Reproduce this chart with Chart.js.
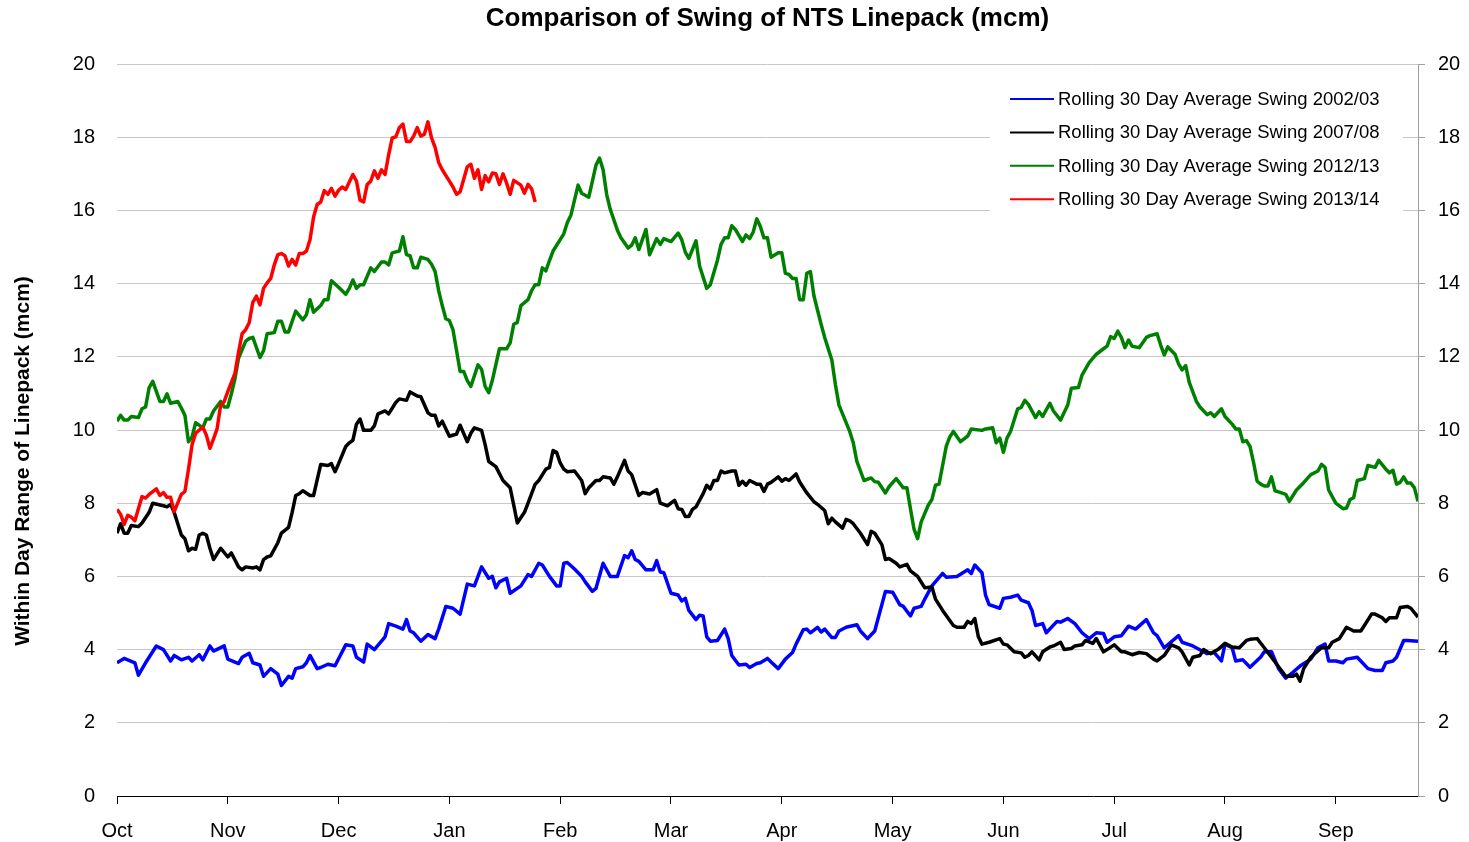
<!DOCTYPE html>
<html lang="en">
<head>
<meta charset="UTF-8">
<title>Comparison of Swing of NTS Linepack (mcm)</title>
<script src="https://cdn.jsdelivr.net/npm/chart.js@4"></script>
<style>
    html, body { margin: 0; padding: 0; background: #fff; }
    canvas { display: block; }
</style>
</head>
<body>
<canvas id="linepackChart" width="1469" height="842"></canvas>
<script>
// month labels, one every 31 days from 1 October
const months = ['Oct', 'Nov', 'Dec', 'Jan', 'Feb', 'Mar', 'Apr', 'May', 'Jun', 'Jul', 'Aug', 'Sep'];
const yTicks = [0, 2, 4, 6, 8, 10, 12, 14, 16, 18, 20];

const chartTitle = 'Comparison of Swing of NTS Linepack (mcm)';
const yTitle = 'Within Day Range of Linepack (mcm)';
const seriesLabels = [
    'Rolling 30 Day Average Swing 2002/03',
    'Rolling 30 Day Average Swing 2007/08',
    'Rolling 30 Day Average Swing 2012/13',
    'Rolling 30 Day Average Swing 2013/14'
];

// [day of gas year, mcm]
const swing0203 = [[0,3.64],[2,3.76],[5,3.64],[6,3.30],[8,3.64],[11,4.10],[13,4.00],[15,3.69],[16,3.84],[18,3.72],[20,3.79],[21,3.69],[23,3.86],[24,3.72],[26,4.10],[27,3.96],[30,4.10],[31,3.74],[34,3.62],[35,3.79],[37,3.90],[38,3.64],[40,3.58],[41,3.27],[43,3.48],[45,3.33],[46,3.02],[48,3.27],[49,3.22],[50,3.48],[52,3.53],[53,3.64],[54,3.84],[56,3.48],[57,3.51],[59,3.60],[61,3.56],[62,3.75],[64,4.13],[66,4.10],[67,3.79],[69,3.66],[70,4.15],[72,4.00],[75,4.35],[76,4.71],[78,4.64],[80,4.56],[81,4.82],[82,4.51],[83,4.46],[85,4.23],[87,4.41],[89,4.30],[90,4.56],[92,5.18],[94,5.13],[96,4.97],[98,5.79],[100,5.74],[102,6.26],[104,5.95],[105,6.00],[106,5.69],[107,5.85],[109,5.95],[110,5.54],[113,5.74],[115,6.05],[116,6.00],[118,6.36],[119,6.31],[121,6.00],[123,5.74],[124,5.74],[125,6.36],[126,6.38],[128,6.20],[130,6.00],[131,5.85],[133,5.59],[134,5.67],[136,6.36],[138,6.00],[140,6.00],[142,6.57],[143,6.51],[144,6.70],[145,6.46],[146,6.41],[148,6.18],[150,6.18],[151,6.43],[152,6.12],[153,6.10],[155,5.54],[157,5.49],[158,5.33],[159,5.40],[160,5.07],[162,4.82],[163,4.94],[164,4.92],[165,4.35],[166,4.23],[168,4.25],[170,4.56],[171,4.30],[172,3.84],[174,3.58],[176,3.60],[177,3.51],[179,3.62],[180,3.64],[182,3.76],[183,3.66],[185,3.48],[187,3.74],[189,3.92],[190,4.15],[192,4.54],[193,4.56],[194,4.46],[196,4.61],[197,4.48],[198,4.56],[200,4.33],[201,4.33],[202,4.51],[204,4.61],[207,4.68],[208,4.51],[210,4.30],[212,4.51],[213,4.87],[215,5.59],[217,5.57],[219,5.23],[220,5.18],[222,4.92],[223,5.13],[225,5.18],[226,5.38],[228,5.74],[231,6.08],[232,5.98],[235,6.00],[238,6.18],[239,6.08],[240,6.31],[242,6.10],[243,5.49],[244,5.23],[247,5.13],[248,5.40],[250,5.43],[252,5.49],[253,5.35],[255,5.28],[256,5.07],[257,4.66],[259,4.71],[260,4.46],[263,4.77],[264,4.75],[266,4.85],[268,4.71],[270,4.46],[272,4.30],[274,4.46],[276,4.44],[277,4.20],[279,4.35],[281,4.38],[283,4.64],[285,4.56],[288,4.82],[290,4.46],[291,4.38],[293,4.05],[297,4.38],[298,4.20],[301,4.10],[304,3.94],[305,3.89],[307,3.92],[309,3.69],[310,4.15],[312,4.05],[313,3.69],[315,3.72],[317,3.52],[320,3.80],[321,3.94],[323,3.94],[325,3.48],[327,3.22],[329,3.38],[331,3.55],[334,3.74],[336,4.05],[338,4.15],[339,3.69],[341,3.69],[343,3.64],[344,3.74],[347,3.79],[350,3.48],[352,3.43],[354,3.43],[355,3.64],[357,3.69],[358,3.79],[360,4.25],[361,4.25],[364,4.23]];

const swing0708 = [[0,7.18],[1,7.44],[2,7.18],[3,7.18],[4,7.39],[6,7.36],[7,7.46],[9,7.75],[10,8.00],[13,7.93],[14,7.90],[15,7.97],[16,7.75],[18,7.13],[19,7.03],[20,6.70],[21,6.77],[22,6.74],[23,7.13],[24,7.18],[25,7.13],[26,6.77],[27,6.46],[29,6.77],[31,6.53],[32,6.64],[34,6.26],[35,6.18],[36,6.26],[38,6.23],[39,6.26],[40,6.18],[41,6.46],[42,6.53],[43,6.56],[45,6.92],[46,7.18],[48,7.34],[49,7.75],[50,8.21],[51,8.26],[52,8.34],[54,8.21],[55,8.21],[57,9.06],[59,9.03],[60,9.08],[61,8.86],[62,9.08],[64,9.55],[65,9.65],[66,9.72],[67,10.16],[68,10.30],[69,9.99],[71,9.99],[72,10.11],[73,10.44],[75,10.52],[76,10.44],[78,10.75],[79,10.85],[81,10.81],[82,11.04],[84,10.93],[85,10.91],[87,10.47],[88,10.40],[89,10.40],[90,10.11],[91,10.24],[93,9.83],[95,9.89],[96,10.13],[98,9.68],[99,9.91],[100,10.06],[102,9.99],[103,9.60],[104,9.14],[106,9.00],[108,8.62],[110,8.42],[111,7.95],[112,7.46],[114,7.75],[115,8.00],[117,8.52],[118,8.62],[120,8.93],[121,8.98],[122,9.44],[123,9.39],[124,9.10],[125,8.93],[126,8.86],[128,8.88],[130,8.62],[131,8.26],[132,8.42],[134,8.62],[135,8.62],[136,8.72],[138,8.69],[139,8.52],[140,8.72],[142,9.17],[143,8.88],[144,8.78],[146,8.21],[147,8.29],[149,8.25],[151,8.37],[152,8.00],[154,7.93],[156,8.08],[157,7.85],[158,7.83],[159,7.64],[160,7.64],[161,7.83],[162,7.90],[164,8.26],[165,8.49],[166,8.39],[167,8.62],[168,8.62],[169,8.88],[170,8.83],[172,8.88],[173,8.88],[174,8.49],[175,8.60],[176,8.49],[177,8.62],[179,8.52],[180,8.52],[181,8.32],[182,8.52],[183,8.57],[185,8.72],[186,8.60],[187,8.67],[188,8.62],[190,8.80],[191,8.58],[193,8.28],[195,8.04],[196,7.97],[198,7.80],[199,7.44],[200,7.59],[201,7.49],[203,7.32],[204,7.56],[205,7.52],[206,7.44],[208,7.18],[210,6.87],[211,7.23],[212,7.18],[214,6.87],[215,6.46],[216,6.49],[218,6.36],[219,6.26],[221,6.33],[222,6.15],[224,6.00],[226,5.69],[228,5.71],[229,5.38],[231,5.07],[234,4.66],[235,4.61],[237,4.61],[238,4.77],[239,4.71],[240,4.85],[241,4.35],[242,4.15],[244,4.20],[247,4.30],[248,4.15],[249,4.13],[251,3.94],[253,3.91],[254,3.79],[255,3.84],[256,3.94],[258,3.72],[259,3.94],[261,4.07],[262,4.10],[264,4.20],[265,4.00],[267,4.03],[268,4.10],[270,4.13],[271,4.25],[273,4.17],[274,4.30],[276,3.94],[277,4.00],[279,4.13],[281,3.94],[282,3.94],[284,3.86],[286,3.92],[288,3.89],[290,3.74],[291,3.69],[293,3.84],[295,4.13],[297,4.05],[298,3.94],[300,3.58],[301,3.79],[303,3.84],[304,4.00],[305,3.94],[306,3.89],[308,4.00],[310,4.17],[312,4.07],[314,4.05],[316,4.25],[317,4.28],[319,4.30],[321,4.05],[323,3.79],[325,3.53],[327,3.27],[329,3.27],[330,3.33],[331,3.14],[332,3.48],[334,3.79],[337,4.05],[339,4.05],[340,4.20],[342,4.30],[344,4.61],[346,4.51],[348,4.51],[349,4.66],[351,4.97],[352,4.97],[354,4.87],[355,4.77],[356,4.87],[358,4.87],[359,5.15],[361,5.18],[362,5.13],[364,4.89]];

const swing1213 = [[0,10.24],[1,10.40],[2,10.27],[3,10.27],[4,10.37],[6,10.34],[7,10.58],[8,10.63],[9,11.16],[10,11.33],[12,10.78],[13,10.78],[14,10.99],[15,10.73],[17,10.78],[18,10.60],[19,10.40],[20,9.68],[21,9.81],[22,10.20],[24,10.06],[25,10.30],[26,10.30],[27,10.52],[29,10.78],[30,10.63],[31,10.63],[32,10.99],[33,11.40],[34,11.96],[36,12.43],[37,12.50],[38,12.53],[40,11.98],[41,12.17],[42,12.63],[44,12.66],[45,12.97],[46,12.97],[47,12.68],[48,12.68],[50,13.25],[52,13.01],[53,13.15],[54,13.56],[55,13.22],[57,13.40],[58,13.56],[59,13.56],[60,14.08],[62,13.90],[64,13.71],[65,13.87],[66,14.10],[67,13.87],[68,13.97],[69,13.97],[71,14.43],[72,14.33],[74,14.59],[75,14.59],[76,14.51],[77,14.84],[79,14.89],[80,15.28],[81,14.79],[82,14.76],[83,14.43],[84,14.43],[85,14.72],[87,14.66],[88,14.53],[89,14.33],[90,13.81],[91,13.40],[92,13.04],[93,12.99],[94,12.74],[95,12.17],[96,11.60],[97,11.60],[98,11.35],[99,11.19],[101,11.78],[102,11.66],[103,11.19],[104,11.02],[105,11.35],[107,12.22],[109,12.22],[110,12.38],[111,12.89],[112,12.94],[113,13.40],[115,13.56],[116,13.81],[117,13.97],[118,13.97],[119,14.43],[120,14.35],[121,14.63],[122,14.89],[124,15.20],[125,15.36],[126,15.67],[127,15.87],[129,16.69],[130,16.47],[132,16.36],[134,17.23],[135,17.43],[136,17.11],[137,16.44],[138,16.03],[140,15.46],[141,15.25],[143,14.97],[144,15.05],[145,15.25],[146,14.93],[148,15.48],[149,14.79],[151,15.23],[152,15.07],[153,15.23],[155,15.15],[157,15.38],[158,15.20],[159,14.86],[160,14.69],[162,15.17],[163,14.48],[165,13.87],[166,13.97],[168,14.64],[169,15.07],[170,15.25],[171,15.25],[172,15.58],[173,15.48],[175,15.15],[176,15.33],[177,15.23],[178,15.41],[179,15.77],[180,15.56],[181,15.25],[182,15.25],[183,14.72],[185,14.84],[186,14.84],[187,14.28],[188,14.25],[189,14.14],[190,14.14],[191,13.56],[192,13.56],[193,14.28],[194,14.33],[195,13.66],[197,12.89],[198,12.53],[200,11.91],[201,11.24],[202,10.68],[205,9.96],[206,9.65],[207,9.14],[209,8.62],[211,8.69],[212,8.59],[213,8.57],[215,8.28],[216,8.45],[218,8.67],[220,8.42],[221,8.42],[222,7.85],[223,7.29],[224,7.03],[225,7.49],[227,7.95],[228,8.10],[229,8.49],[230,8.52],[232,9.55],[233,9.81],[234,9.96],[236,9.68],[238,9.83],[239,10.03],[242,9.99],[243,10.03],[245,10.06],[246,9.65],[247,9.78],[248,9.39],[249,9.78],[250,9.96],[252,10.58],[253,10.62],[254,10.81],[255,10.70],[257,10.34],[258,10.50],[259,10.37],[261,10.73],[262,10.52],[264,10.27],[266,10.68],[267,11.14],[269,11.16],[270,11.50],[272,11.84],[274,12.07],[276,12.22],[277,12.29],[278,12.55],[279,12.50],[280,12.70],[281,12.53],[282,12.25],[283,12.46],[284,12.29],[286,12.25],[288,12.53],[289,12.58],[291,12.63],[292,12.32],[293,12.05],[294,12.27],[296,12.07],[297,11.81],[298,11.64],[299,11.76],[300,11.30],[302,10.78],[303,10.63],[305,10.42],[306,10.47],[307,10.37],[309,10.58],[310,10.37],[312,10.16],[313,10.03],[314,10.03],[315,9.68],[316,9.71],[317,9.55],[318,9.11],[319,8.60],[320,8.52],[321,8.47],[322,8.47],[323,8.72],[324,8.34],[325,8.31],[327,8.24],[328,8.05],[330,8.36],[332,8.56],[334,8.78],[336,8.88],[337,9.06],[338,8.98],[339,8.36],[341,8.00],[343,7.85],[344,7.87],[345,8.10],[346,8.15],[347,8.62],[349,8.67],[350,9.03],[352,8.98],[353,9.17],[355,8.93],[356,8.83],[357,8.90],[358,8.52],[359,8.57],[360,8.72],[361,8.55],[362,8.55],[363,8.42],[364,8.05]];

const swing1314 = [[0,7.83],[1,7.70],[2,7.42],[3,7.67],[4,7.62],[5,7.52],[7,8.18],[8,8.14],[9,8.24],[11,8.39],[12,8.21],[13,8.29],[14,8.16],[15,8.16],[16,7.77],[18,8.24],[19,8.32],[20,8.93],[21,9.60],[22,9.91],[24,10.08],[25,9.86],[26,9.50],[27,9.76],[28,10.03],[29,10.68],[30,10.78],[31,11.05],[32,11.30],[33,11.55],[34,12.12],[35,12.63],[36,12.74],[37,12.94],[38,13.49],[39,13.66],[40,13.42],[41,13.87],[42,14.02],[43,14.14],[44,14.51],[45,14.79],[46,14.82],[47,14.76],[48,14.48],[49,14.66],[50,14.51],[51,14.82],[52,14.82],[53,14.89],[54,15.20],[55,15.82],[56,16.16],[57,16.23],[58,16.54],[59,16.44],[60,16.60],[61,16.39],[62,16.55],[63,16.64],[64,16.57],[66,16.98],[67,16.80],[68,16.28],[69,16.23],[70,16.71],[71,16.80],[72,17.08],[73,16.88],[74,17.11],[75,16.98],[76,17.52],[77,17.98],[78,18.01],[79,18.26],[80,18.36],[81,17.88],[82,17.88],[83,18.03],[84,18.26],[85,18.03],[86,18.08],[87,18.42],[88,17.98],[89,17.72],[90,17.31],[91,17.11],[93,16.80],[94,16.64],[95,16.44],[96,16.51],[98,17.19],[99,17.26],[100,16.88],[101,17.11],[102,16.57],[103,16.95],[104,16.78],[105,17.02],[106,17.00],[107,16.71],[108,17.00],[109,16.75],[110,16.44],[111,16.82],[113,16.69],[114,16.47],[115,16.71],[116,16.59],[117,16.23]];

const toPoints = arr => arr.map(p => ({ x: p[0], y: p[1] }));
const fontFamily = '"Liberation Sans", Arial, sans-serif';
Chart.defaults.font.family = fontFamily;
Chart.defaults.color = '#000';

// title, rotated y title and the legend box inside the plot
const overlay = {
    id: 'overlay',
    afterDraw(chart) {
        const ctx = chart.ctx;
        const area = chart.chartArea;
        ctx.save();
        ctx.fillStyle = '#000';
        ctx.textAlign = 'center';
        ctx.textBaseline = 'middle';
        ctx.font = 'bold 26px ' + fontFamily;
        ctx.fillText(chartTitle, (area.left + area.right) / 2, 19);

        ctx.save();
        ctx.translate(23, 461);
        ctx.rotate(-Math.PI / 2);
        ctx.font = 'bold 21px ' + fontFamily;
        ctx.fillText(yTitle, 0, 0);
        ctx.restore();

        ctx.fillStyle = '#fff';
        ctx.fillRect(990, 69, 413, 147);
        ctx.font = '18.5px ' + fontFamily;
        ctx.textAlign = 'left';
        chart.data.datasets.forEach((ds, i) => {
            const y = 99 + i * 33.4;
            ctx.strokeStyle = ds.borderColor;
            ctx.lineWidth = 2;
            ctx.beginPath();
            ctx.moveTo(1010, y);
            ctx.lineTo(1054, y);
            ctx.stroke();
            ctx.fillStyle = '#000';
            ctx.fillText(ds.label, 1058, y + 1);
        });
        ctx.restore();
    }
};

const series = [swing0203, swing0708, swing1213, swing1314];
const colours = ['#0000ff', '#000000', '#008000', '#ff0000'];

new Chart(document.getElementById('linepackChart'), {
    type: 'line',
    data: {
        datasets: series.map((s, i) => ({
            label: seriesLabels[i],
            data: toPoints(s),
            borderColor: colours[i],
            backgroundColor: colours[i],
            borderWidth: 3.5,
            borderJoinStyle: 'round',
            pointRadius: 0,
            tension: 0,
            order: 4 - i
        }))
    },
    options: {
        responsive: false,
        animation: false,
        devicePixelRatio: 1,
        layout: { padding: { top: 64, left: 0, right: 0, bottom: 0 } },
        plugins: {
            legend: { display: false },
            title: { display: false },
            tooltip: { enabled: false }
        },
        scales: {
            x: {
                type: 'linear',
                min: 0,
                max: 364,
                afterFit(s) { s.height = 46; },
                grid: { drawOnChartArea: false, drawTicks: true, tickLength: 8, color: '#000' },
                border: { display: true, color: '#000', width: 1 },
                ticks: {
                    stepSize: 31,
                    includeBounds: false,
                    autoSkip: false,
                    maxRotation: 0,
                    padding: 15,
                    font: { size: 20 },
                    callback: v => months[v / 31] ?? ''
                }
            },
            y: {
                position: 'left',
                min: 0,
                max: 20,
                afterFit(s) { s.width = 117; },
                grid: {
                    drawTicks: false,
                    color: c => c.tick && c.tick.value === 0 ? 'rgba(0,0,0,0)' : '#c8c8c8'
                },
                border: { display: false },
                afterBuildTicks(s) { s.ticks = yTicks.map(v => ({ value: v })); },
                ticks: { padding: 22, font: { size: 20 } }
            },
            y2: {
                position: 'right',
                min: 0,
                max: 20,
                afterFit(s) { s.width = 51; },
                grid: { drawOnChartArea: false, tickLength: 7, color: '#a0a0a0' },
                border: { display: true, color: '#a0a0a0' },
                afterBuildTicks(s) { s.ticks = yTicks.map(v => ({ value: v })); },
                ticks: { padding: 13, font: { size: 20 } }
            }
        }
    },
    plugins: [overlay]
});
</script>
</body>
</html>
